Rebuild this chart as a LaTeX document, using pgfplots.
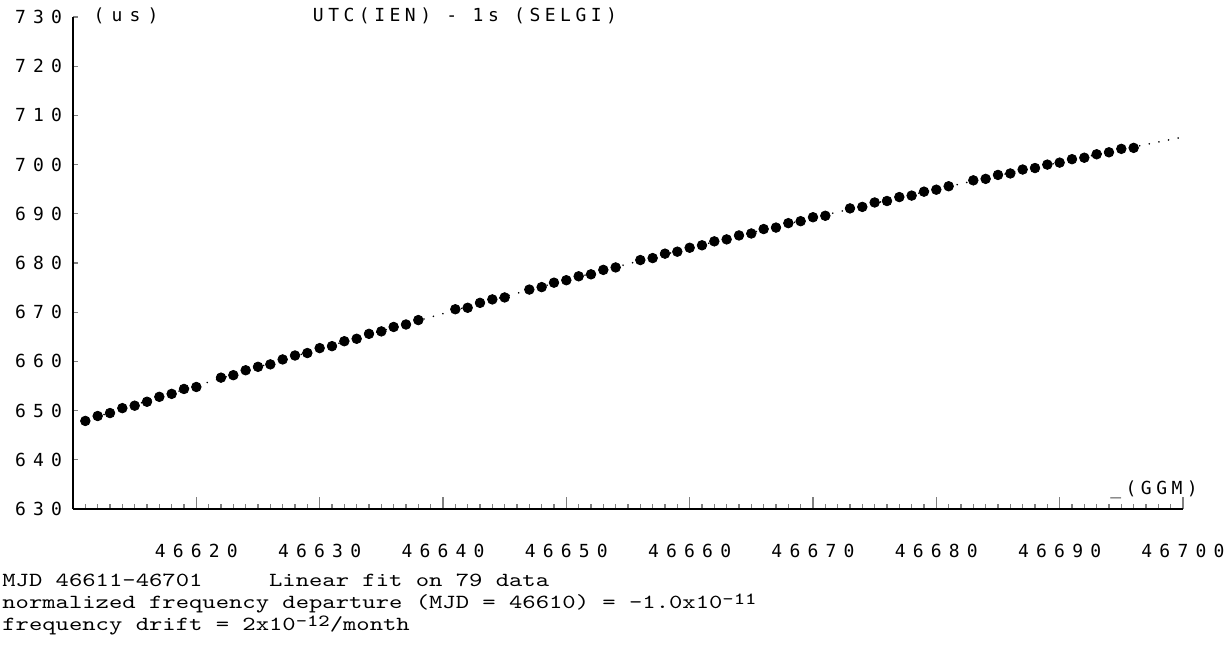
\documentclass[border=0pt]{standalone}
\usepackage{fontspec}
\usepackage{graphicx}
\usepackage{pgfplots}
\pgfplotsset{compat=1.18}
\newfontfamily\plotfont[LetterSpace=40]{DejaVu Sans Mono}
\newfontfamily\titlefont[LetterSpace=25]{DejaVu Sans Mono}
\newcommand\sups[1]{\raisebox{0.45ex}{\fontsize{8.5}{8.5}\selectfont #1}}
\pgfplotstableread{
x y
46611 647.9
46612 648.9
46613 649.5
46614 650.5
46615 651.0
46616 651.8
46617 652.8
46618 653.4
46619 654.4
46620 654.8
46622 656.7
46623 657.2
46624 658.2
46625 658.9
46626 659.4
46627 660.4
46628 661.2
46629 661.7
46630 662.7
46631 663.1
46632 664.1
46633 664.6
46634 665.6
46635 666.1
46636 667.0
46637 667.5
46638 668.4
46641 670.6
46642 670.9
46643 671.9
46644 672.6
46645 673.0
46647 674.6
46648 675.1
46649 676.0
46650 676.5
46651 677.3
46652 677.7
46653 678.6
46654 679.1
46656 680.6
46657 681.0
46658 681.9
46659 682.3
46660 683.1
46661 683.6
46662 684.4
46663 684.8
46664 685.6
46665 686.0
46666 686.9
46667 687.2
46668 688.1
46669 688.5
46670 689.3
46671 689.6
46673 691.1
46674 691.4
46675 692.3
46676 692.6
46677 693.4
46678 693.7
46679 694.5
46680 694.9
46681 695.6
46683 696.8
46684 697.1
46685 697.9
46686 698.2
46687 699.0
46688 699.3
46689 700.0
46690 700.4
46691 701.1
46692 701.4
46693 702.1
46694 702.5
46695 703.2
46696 703.4
}\datatable
\pgfplotstableread{
x y
46611 648.00
46615 651.16
46620 655.04
46625 658.84
46630 662.54
46635 666.17
46640 669.71
46645 673.17
46650 676.54
46655 679.82
46660 683.03
46665 686.14
46670 689.18
46675 692.13
46680 694.99
46685 697.77
46690 700.46
46695 703.08
46700 705.60
}\fittable
\begin{document}
\begin{tikzpicture}
\path[use as bounding box] (0,0) rectangle (615.5pt,330pt);
\begin{axis}[
  at={(36.5pt,75.5pt)}, anchor=south west,
  scale only axis, width=555pt, height=246pt,
  xmin=46610, xmax=46700, ymin=630, ymax=730,
  axis x line=bottom, axis y line=left,
  axis line style={-, line width=1pt},
  xtick={46620,46630,...,46700},
  minor xtick={46611,46612,...,46699},
  ytick={630,640,...,730},
  scaled x ticks=false,
  xticklabel={\pgfmathprintnumber[fixed,precision=0,1000 sep={}]{\tick}},
  tick align=inside,
  xtick style={line width=0.6pt, /pgfplots/major tick length=6pt, /pgfplots/minor tick length=2.5pt},
  ytick style={line width=0.6pt, /pgfplots/major tick length=2.5pt},
  ticklabel style={font=\plotfont\fontsize{9}{9}\selectfont},
  /pgf/number format/assume math mode=true,
  /pgf/number format/1000 sep={},
  xticklabel style={yshift=-14pt},
  yticklabel style={xshift=-2pt},
  clip=false,
]
\addplot[black, line width=0.9pt, line cap=round, dash pattern=on 0.01pt off 4.9pt] table {\fittable};
\addplot[only marks, mark=*, mark size=2.4pt, black] table {\datatable};
\end{axis}
\node[font=\titlefont\fontsize{9}{9}\selectfont] at (232.5pt,322pt) {UTC(IEN) - 1s (SELGI)};
\node[font=\plotfont\fontsize{9}{9}\selectfont] at (63pt,322pt) {(us)};
\node[font=\titlefont\fontsize{9}{9}\selectfont] at (577pt,85pt) {\_(GGM)};
\node[anchor=base west, inner sep=0, font=\ttfamily\fontsize{10}{10}\selectfont] at (1pt,37pt) {\scalebox{1.27}[1]{MJD 46611-46701\ \ \ \ \ Linear fit on 79 data}};
\node[anchor=base west, inner sep=0, font=\ttfamily\fontsize{10}{10}\selectfont] at (1pt,26pt) {\scalebox{1.27}[1]{normalized frequency departure (MJD = 46610) = -1.0x10\sups{-11}}};
\node[anchor=base west, inner sep=0, font=\ttfamily\fontsize{10}{10}\selectfont] at (1pt,15pt) {\scalebox{1.27}[1]{frequency drift = 2x10\sups{-12}/month}};
\end{tikzpicture}
\end{document}
